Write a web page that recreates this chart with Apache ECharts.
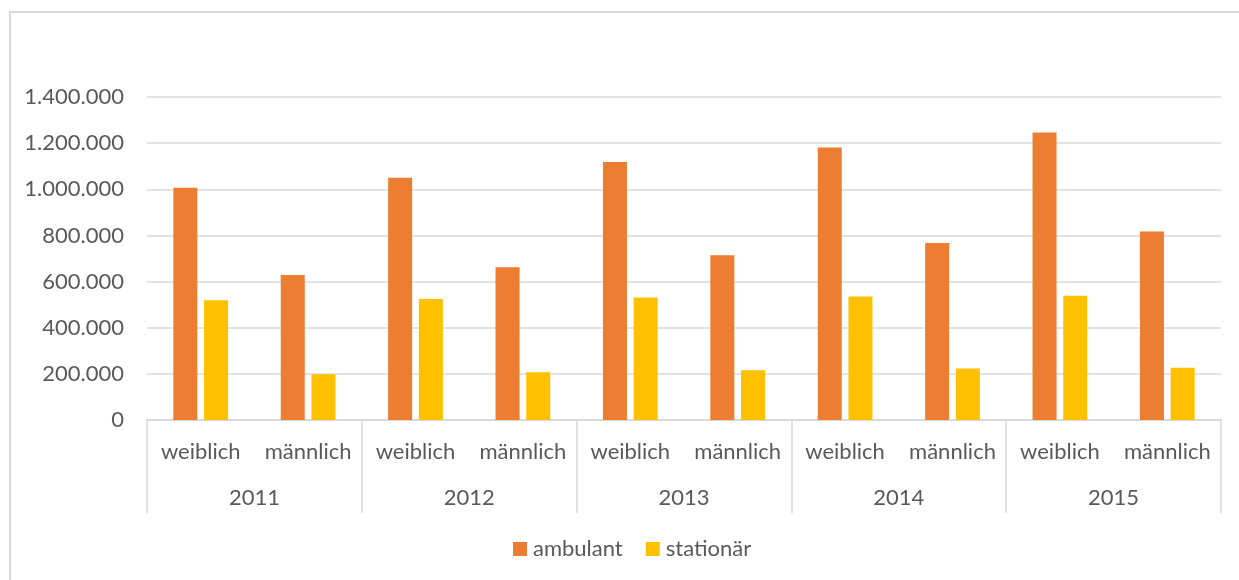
<!DOCTYPE html>
<html>
<head>
<meta charset="utf-8">
<script src="https://cdn.jsdelivr.net/npm/echarts@6/dist/echarts.min.js"></script>
<style>
  html, body { margin: 0; padding: 0; background: #fff; overflow: hidden; }
  #frame {
    position: absolute; left: 9px; top: 11px; width: 1300px; height: 640px;
    border-left: 2px solid #d9d9d9; border-top: 2px solid #d9d9d9;
  }
  #chart { position: absolute; left: 0; top: 0; width: 1239px; height: 580px; }
</style>
</head>
<body>
<div id="frame"></div>
<div id="chart"></div>
<script>
  // Kategorien: Geschlecht je Jahr
  const years = ['2011', '2012', '2013', '2014', '2015'];
  const sexes = ['weiblich', 'männlich', 'weiblich', 'männlich', 'weiblich', 'männlich', 'weiblich', 'männlich', 'weiblich', 'männlich'];
  const ambulant = [1007000, 628000, 1050000, 662000, 1118000, 714000, 1181000, 767000, 1246000, 817000];
  const stationaer = [519000, 198000, 525000, 207000, 531000, 216000, 535000, 223000, 539000, 227000];

  const txt = '#595959';
  const line = '#d9d9d9';
  const font = 'Lato, "Open Sans", sans-serif';
  const fs = 22;

  const fmt = v => String(v).replace(/\B(?=(\d{3})+(?!\d))/g, '.');

  const myChart = echarts.init(document.getElementById('chart'));
  const option = {
    animation: false,
    textStyle: { fontFamily: font },
    grid: { left: 147, right: 18, top: 97, bottom: 160 },
    legend: {
      data: ['ambulant', 'stationär'],
      left: 508,
      top: 533,
      itemWidth: 14,
      itemHeight: 14,
      itemGap: 23,
      icon: 'rect',
      textStyle: { color: txt, fontSize: 22, fontFamily: font, padding: [0, 0, 0, 1] },
    },
    xAxis: [
      {
        type: 'category',
        data: sexes,
        axisLine: { lineStyle: { color: line, width: 1.5 } },
        axisTick: { show: false },
        axisLabel: { color: txt, fontSize: fs, fontFamily: font, margin: 21, interval: 0 },
      },
      {
        type: 'category',
        data: years,
        position: 'bottom',
        axisLine: { show: true, lineStyle: { color: line, width: 1.5 } },
        axisTick: { show: true, length: 93, lineStyle: { color: line, width: 1.5 } },
        axisLabel: { color: txt, fontSize: fs, fontFamily: font, margin: 67 },
      },
    ],
    yAxis: {
      type: 'value',
      min: 0,
      max: 1400000,
      interval: 200000,
      axisLine: { show: false },
      axisTick: { show: false },
      splitLine: { lineStyle: { color: line, width: 1.5 } },
      axisLabel: { color: txt, fontSize: fs, fontFamily: font, margin: 23, formatter: fmt },
    },
    series: [
      {
        name: 'ambulant',
        type: 'bar',
        xAxisIndex: 0,
        barWidth: 24,
        barGap: '28%',
        itemStyle: { color: '#ed7d31' },
        data: ambulant,
      },
      {
        name: 'stationär',
        type: 'bar',
        xAxisIndex: 0,
        barWidth: 24,
        itemStyle: { color: '#ffc000' },
        data: stationaer,
      },
    ],
  };
  myChart.setOption(option);
</script>
</body>
</html>
